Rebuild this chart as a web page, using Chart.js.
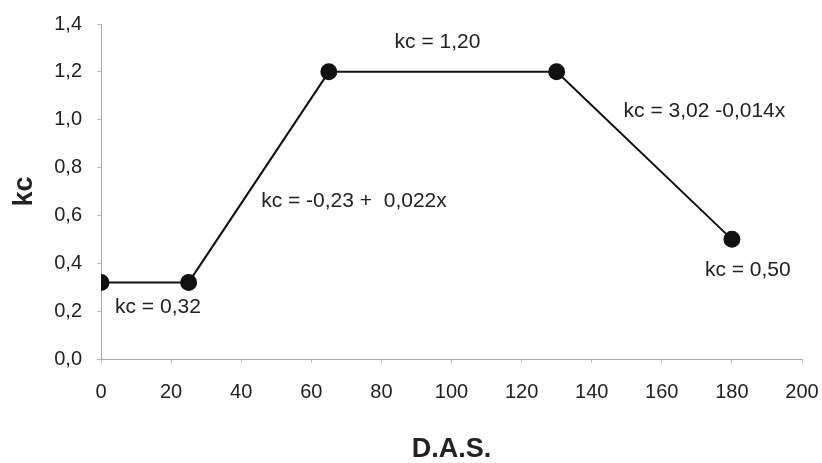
<!DOCTYPE html>
<html>
<head>
<meta charset="utf-8">
<script src="https://cdn.jsdelivr.net/npm/chart.js@4"></script>
<style>
  html, body { margin: 0; padding: 0; background: #fff; }
  #wrap { width: 822px; height: 463px; }
</style>
</head>
<body>
<div id="wrap"><canvas id="kcChart"></canvas></div>
<script>
// stages of the crop coefficient curve
var das = [0, 25, 65, 130, 180];
var kc = [0.32, 0.32, 1.20, 1.20, 0.50];

var xTicks = [0, 20, 40, 60, 80, 100, 120, 140, 160, 180, 200];
var yTicks = [0.0, 0.2, 0.4, 0.6, 0.8, 1.0, 1.2, 1.4];

// equation labels, anchored in data units
var eqText = ["kc = 0,32", "kc = -0,23 +  0,022x", "kc = 1,20", "kc = 3,02 -0,014x", "kc = 0,50"];
var eqX = [4.0, 45.7, 96, 149.1, 172.3];
var eqY = [0.218, 0.658, 1.324, 1.035, 0.373];
var eqAlign = ["left", "left", "center", "left", "left"];

var points = das.map(function (d, i) { return { x: d, y: kc[i] }; });

var eqLabels = {
    id: "eqLabels",
    afterDatasetsDraw: function (chart) {
        var ctx = chart.ctx;
        var xs = chart.scales.x, ys = chart.scales.y;
        ctx.save();
        ctx.font = "21px 'Liberation Sans', Arial, sans-serif";
        ctx.fillStyle = "#222";
        ctx.textBaseline = "middle";
        for (var i = 0; i < eqText.length; i++) {
            ctx.textAlign = eqAlign[i];
            ctx.fillText(eqText[i], xs.getPixelForValue(eqX[i]), ys.getPixelForValue(eqY[i]));
        }
        ctx.restore();
    }
};

function comma(v) {
    return v.toFixed(1).replace(".", ",");
}

window.onload = function () {
    var ctx = document.getElementById("kcChart").getContext("2d");
    Chart.defaults.font.family = "'Liberation Sans', Arial, sans-serif";
    Chart.defaults.color = "#222";
    window.kcChart = new Chart(ctx, {
        type: "line",
        data: {
            datasets: [{
                data: points,
                borderColor: "#111",
                backgroundColor: "#111",
                borderWidth: 2,
                pointRadius: 7.5,
                pointHoverRadius: 7.5,
                tension: 0
            }]
        },
        options: {
            responsive: true,
            maintainAspectRatio: false,
            animation: false,
            layout: { padding: { left: 0, right: 20, top: 24, bottom: 0 } },
            plugins: {
                legend: { display: false },
                tooltip: { enabled: false }
            },
            scales: {
                x: {
                    type: "linear",
                    min: 0,
                    max: 200,
                    afterBuildTicks: function (s) { s.ticks = xTicks.map(function (v) { return { value: v }; }); },
                    afterFit: function (s) { s.height = 104; s.paddingLeft = 0; s.paddingRight = 0; },
                    grid: { drawOnChartArea: false, drawTicks: true, tickLength: 4, color: "#bbb" },
                    border: { color: "#aaa", dash: [2, 3], width: 1 },
                    ticks: { font: { size: 20 }, padding: 17, maxRotation: 0 },
                    title: {
                        display: true,
                        text: "D.A.S.",
                        font: { size: 27, weight: "bold", lineHeight: 1 },
                        padding: { top: 0, bottom: 0 }
                    }
                },
                y: {
                    min: 0,
                    max: 1.4,
                    afterBuildTicks: function (s) { s.ticks = yTicks.map(function (v) { return { value: v }; }); },
                    afterFit: function (s) { s.width = 101; s.paddingTop = 0; s.paddingBottom = 0; },
                    grid: { drawOnChartArea: false, drawTicks: true, tickLength: 4, color: "#bbb" },
                    border: { color: "#aaa", dash: [2, 3], width: 1 },
                    ticks: {
                        font: { size: 20 },
                        padding: 15,
                        callback: function (v) { return comma(v); }
                    },
                    title: {
                        display: true,
                        text: "kc",
                        font: { size: 27, weight: "bold" },
                        padding: { top: 8, bottom: 0 }
                    }
                }
            }
        },
        plugins: [eqLabels]
    });
};
</script>
</body>
</html>
